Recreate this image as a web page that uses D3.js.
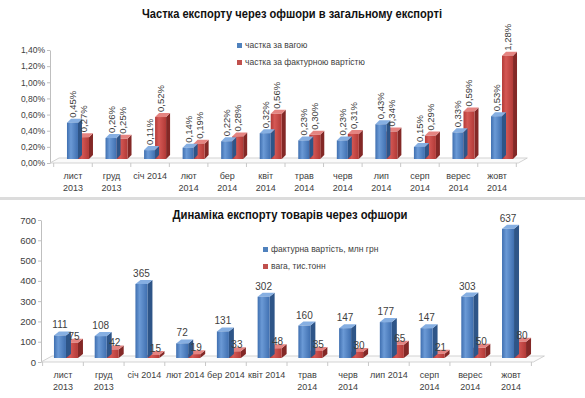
<!DOCTYPE html>
<html lang="uk">
<head>
<meta charset="UTF-8" />
<title>Експорт через офшори</title>
<style>
  body { margin: 0; background: #fff; }
  text { font-family: "Liberation Sans", Arial, sans-serif; }
</style>
</head>
<body>
<svg id="svg" width="585" height="398"></svg>
<script src="https://d3js.org/d3.v7.min.js"></script>
<script>
// --- data ---
const monthsTop = ['лист|2013', 'груд|2013', 'січ 2014', 'лют|2014', 'бер|2014', 'квіт|2014',
  'трав|2014', 'черв|2014', 'лип|2014', 'серп|2014', 'верес|2014', 'жовт|2014'];
const monthsBottom = ['лист|2013', 'груд|2013', 'січ 2014', 'лют 2014', 'бер 2014', 'квіт 2014',
  'трав|2014', 'черв|2014', 'лип 2014', 'серп|2014', 'верес|2014', 'жовт|2014'];

const shareByWeight = [0.45, 0.26, 0.11, 0.14, 0.22, 0.32, 0.23, 0.23, 0.43, 0.15, 0.33, 0.53];
const shareByValue = [0.27, 0.25, 0.52, 0.19, 0.28, 0.56, 0.30, 0.31, 0.34, 0.29, 0.59, 1.28];
const pctTicks = [0, 0.2, 0.4, 0.6, 0.8, 1.0, 1.2, 1.4];

const invoiceValue = [111, 108, 365, 72, 131, 302, 160, 147, 177, 147, 303, 637];
const weightTons = [75, 42, 15, 19, 33, 48, 35, 30, 65, 21, 50, 80];
const numTicks = [0, 100, 200, 300, 400, 500, 600, 700];

const topTitle = 'Частка експорту через офшори в загальному експорті';
const bottomTitle = 'Динаміка експорту товарів через офшори';
const topLegend = ['частка за вагою', 'частка за фактурною вартістю'];
const bottomLegend = ['фактурна вартість, млн грн', 'вага, тис.тонн'];

const svg = d3.select('#svg');
const defs = svg.append('defs');

const blue = { a: '#6b9ad6', b: '#3f6fb0', side: '#2e5588', top: '#86afe2', sq: '#4f81bd' };
const red = { a: '#d55855', b: '#b23a37', side: '#832826', top: '#e58481', sq: '#c0504d' };

function grad(id, c) {
  const lg = defs.append('linearGradient').attr('id', id)
    .attr('x1', 0).attr('x2', 1).attr('y1', 0).attr('y2', 0);
  lg.append('stop').attr('offset', '0%').attr('stop-color', c.b);
  lg.append('stop').attr('offset', '35%').attr('stop-color', c.a);
  lg.append('stop').attr('offset', '100%').attr('stop-color', c.b);
}
grad('gBlue', blue);
grad('gRed', red);

function bar3d(g, x0, w, yTop, yBase, dx, dy, c, gid) {
  g.append('polygon')
    .attr('points', [[x0 + w, yTop], [x0 + w + dx, yTop + dy], [x0 + w + dx, yBase + dy], [x0 + w, yBase]].join(' '))
    .attr('fill', c.side);
  g.append('polygon')
    .attr('points', [[x0, yTop], [x0 + dx, yTop + dy], [x0 + w + dx, yTop + dy], [x0 + w, yTop]].join(' '))
    .attr('fill', c.top);
  g.append('rect')
    .attr('x', x0).attr('y', yTop)
    .attr('width', w).attr('height', Math.max(0, yBase - yTop))
    .attr('fill', `url(#${gid})`);
}

function drawChart(o) {
  const g = svg.append('g');
  const x = d3.scaleBand().domain(o.cats).range(o.xRange);
  const y = d3.scaleLinear().domain([0, d3.max(o.ticks)]).range(o.yRange);
  const y0 = y(0);

  // title
  g.append('text')
    .attr('x', o.titleX).attr('y', o.titleY)
    .attr('text-anchor', 'middle')
    .attr('font-size', 12).attr('font-weight', 'bold').attr('fill', '#111')
    .attr('textLength', o.titleW).attr('lengthAdjust', 'spacingAndGlyphs')
    .text(o.title);

  // y axis
  const ax = g.append('g')
    .attr('transform', `translate(${o.axisX},0)`)
    .call(d3.axisLeft(y).tickValues(o.ticks).tickFormat(o.tickFmt).tickSize(3).tickSizeOuter(0));
  ax.select('.domain').attr('stroke', '#bfbfbf');
  ax.selectAll('.tick line').attr('stroke', '#bfbfbf');
  ax.selectAll('.tick text')
    .attr('font-family', '"Liberation Sans", Arial, sans-serif')
    .attr('font-size', o.tickSize).attr('fill', '#404040').attr('x', -5);

  // floor
  const xEnd = o.xRange[1] + 2;
  g.append('polygon')
    .attr('points', [[o.axisX, y0], [xEnd, y0], [xEnd + o.floorDx, y0 + o.floorDy], [o.axisX + o.floorDx, y0 + o.floorDy]].join(' '))
    .attr('fill', '#fafafa').attr('stroke', '#c8c8c8').attr('stroke-width', 0.8);

  // category ticks
  g.selectAll('.ctick').data(o.cats.concat(['_end'])).join('line')
    .attr('x1', (d, i) => o.xRange[0] + i * x.step())
    .attr('x2', (d, i) => o.xRange[0] + i * x.step())
    .attr('y1', y0).attr('y2', y0 + 4)
    .attr('stroke', '#c8c8c8');

  // bars
  const base = y0 - o.baseLift;
  o.cats.forEach((cat, i) => {
    const c = x(cat) + x.bandwidth() / 2;
    bar3d(g, c + o.redOff, o.barW, y(o.s2[i]) - o.baseLift, base, o.dx, o.dy, red, 'gRed');
    bar3d(g, c + o.blueOff, o.barW, y(o.s1[i]) - o.baseLift, base, o.dx, o.dy, blue, 'gBlue');
  });

  // category labels
  const lab = g.selectAll('.cat').data(o.cats).join('text')
    .attr('text-anchor', 'middle')
    .attr('font-size', o.catSize).attr('fill', '#404040');
  lab.each(function (d) {
    const c = x(d) + x.bandwidth() / 2;
    d.split('|').forEach((part, k) => {
      d3.select(this).append('tspan').attr('x', c).attr('y', o.catY + k * o.catLine).text(part);
    });
  });

  // legend
  [blue, red].forEach((col, k) => {
    g.append('rect')
      .attr('x', o.legX).attr('y', o.legY + k * o.legStep - 5)
      .attr('width', 5).attr('height', 5).attr('fill', col.sq);
    g.append('text')
      .attr('x', o.legX + 8).attr('y', o.legY + k * o.legStep)
      .attr('font-size', o.legSize).attr('fill', '#404040')
      .text(o.legend[k]);
  });

  return { g, x, y };
}

// --- top chart: shares ---
const pctFmt = (v) => d3.format('.2f')(v).replace('.', ',') + '%';
const topChart = drawChart({
  cats: monthsTop, s1: shareByWeight, s2: shareByValue, ticks: pctTicks,
  tickFmt: (v) => pctFmt(v), tickSize: 8.5,
  xRange: [53.7, 516.3], yRange: [163, 50], axisX: 50,
  floorDx: 9, floorDy: -5, baseLift: 4,
  barW: 11, blueOff: -6, redOff: 5, dx: 4, dy: -4,
  title: topTitle, titleX: 292, titleY: 18, titleW: 300,
  catY: 179, catLine: 12, catSize: 9,
  legend: topLegend, legX: 237, legY: 48, legStep: 17, legSize: 8.5
});
monthsTop.forEach((cat, i) => {
  const c = topChart.x(cat) + topChart.x.bandwidth() / 2;
  [[shareByWeight[i], c - 0.5], [shareByValue[i], c + 10.5]].forEach(([v, cx]) => {
    topChart.g.append('text')
      .attr('transform', `translate(${cx + 3.5},${topChart.y(v) - 9}) rotate(-90)`)
      .attr('font-size', 9.5).attr('fill', '#404040')
      .text(pctFmt(v));
  });
});

// separator band
svg.append('rect').attr('x', 0).attr('y', 197).attr('width', 585).attr('height', 3).attr('fill', '#dcdcdc');

// --- bottom chart: volumes ---
const botChart = drawChart({
  cats: monthsBottom, s1: invoiceValue, s2: weightTons, ticks: numTicks,
  tickFmt: d3.format('d'), tickSize: 9.5,
  xRange: [42.6, 531.4], yRange: [362, 220], axisX: 41,
  floorDx: 11, floorDy: -6, baseLift: 4,
  barW: 12, blueOff: -9, redOff: 3, dx: 5, dy: -4,
  title: bottomTitle, titleX: 290, titleY: 219, titleW: 235,
  catY: 378, catLine: 12, catSize: 9,
  legend: bottomLegend, legX: 263, legY: 252, legStep: 17, legSize: 8.5
});
monthsBottom.forEach((cat, i) => {
  const c = botChart.x(cat) + botChart.x.bandwidth() / 2;
  botChart.g.append('text')
    .attr('x', c - 3).attr('y', botChart.y(invoiceValue[i]) - 11)
    .attr('text-anchor', 'middle').attr('font-size', 10).attr('fill', '#404040')
    .text(invoiceValue[i]);
  botChart.g.append('text')
    .attr('x', c + 11).attr('y', botChart.y(weightTons[i]) - 7)
    .attr('text-anchor', 'middle').attr('font-size', 10).attr('fill', '#404040')
    .text(weightTons[i]);
});
</script>
</body>
</html>
